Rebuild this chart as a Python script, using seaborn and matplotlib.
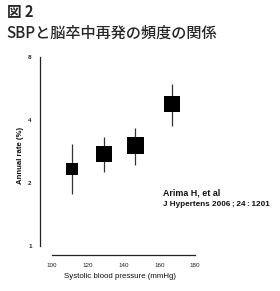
import matplotlib
matplotlib.use("Agg")
import matplotlib.pyplot as plt
import seaborn as sns
import pandas as pd
import numpy as np
from matplotlib.ticker import FixedLocator, NullLocator

# Data
sbp = [111.0, 129.3, 146.6, 167.0]          # mean systolic BP of each group (mmHg)
rate = [2.34, 2.76, 3.02, 4.76]             # annual recurrence rate (%)
ci_low = [1.77, 2.25, 2.44, 3.76]
ci_high = [3.07, 3.33, 3.65, 5.94]
weight = [12, 16, 17, 16]                   # relative box size (information)
x_ticks = [100, 120, 140, 160, 180]
y_ticks = [1, 2, 4, 8]

df = pd.DataFrame({"sbp": sbp, "rate": rate, "lo": ci_low, "hi": ci_high, "w": weight})

sns.set_style("white")
plt.rcParams['font.family'] = ['Liberation Sans', 'DejaVu Sans']

fig = plt.figure(figsize=(2.80, 2.91), dpi=100)
ax = fig.add_axes([40/280, 1 - 255/291, 160/280, (255 - 55)/291])

ax.set_yscale("log", base=2)
ax.vlines(df["sbp"], df["lo"], df["hi"], color="#333333", lw=0.9, zorder=1)
px = 0.72  # points per pixel at 100 dpi
sizes = [(w * px) ** 2 for w in df["w"]]
sns.scatterplot(data=df, x="sbp", y="rate", marker="s", s=sizes, color="black",
                edgecolor="none", ax=ax, zorder=2, legend=False)

x0 = 100 - 12 / 1.7875
ax.set_xlim(x0, x0 + 160 / 1.7875)
ax.set_ylim(2 ** (-9 / 63), 2 ** (3 + 2 / 63))

ax.yaxis.set_major_locator(FixedLocator(y_ticks))
ax.yaxis.set_minor_locator(NullLocator())
ax.set_yticklabels([str(v) for v in y_ticks], fontweight="bold")
ax.set_xticks(x_ticks)
ax.set_xticklabels([str(v) for v in x_ticks])

for s in ["top", "right"]:
    ax.spines[s].set_visible(False)
ax.spines["left"].set_bounds(1, 8)
ax.spines["bottom"].set_bounds(100, 180)
for s in ["left", "bottom"]:
    ax.spines[s].set_color("#222222")
    ax.spines[s].set_linewidth(0.9)

ax.tick_params(axis="y", direction="out", length=3, width=0.9, pad=3,
               labelsize=4.5, colors="#222222")
ax.tick_params(axis="x", direction="out", length=2.5, width=0.9, pad=3,
               labelsize=4.5, colors="#222222")

ax.set_xlabel("Systolic blood pressure (mmHg)", fontsize=5.7, labelpad=4, color="#111111")
ax.set_ylabel("Annual rate (%)", fontsize=5.6, labelpad=3, color="#111111",
              fontweight="bold")
ax.grid(False)

fig.text(163/280, 1 - 193/291, "Arima H, et al", fontsize=6.4, fontweight="bold",
         va="center", ha="left", color="#111111")
fig.text(163/280, 1 - 204/291, "J Hypertens 2006\u2009;\u200924\u2009:\u20091201", fontsize=5.9,
         fontweight="bold", va="center", ha="left", color="#111111",
         family=["Liberation Sans", "DejaVu Sans"])

fig.text(7/280, 1 - 12.5/291, "図 2", fontsize=10.5, fontweight="bold",
         family=["Noto Sans CJK JP", "DejaVu Sans"], va="center", ha="left")
fig.text(6/280, 1 - 33.5/291, "SBPと脳卒中再発の頻度の関係", fontsize=10.9,
         fontweight="medium", family=["Noto Sans CJK JP", "DejaVu Sans"],
         va="center", ha="left")

fig.savefig("out.png", dpi=100)
